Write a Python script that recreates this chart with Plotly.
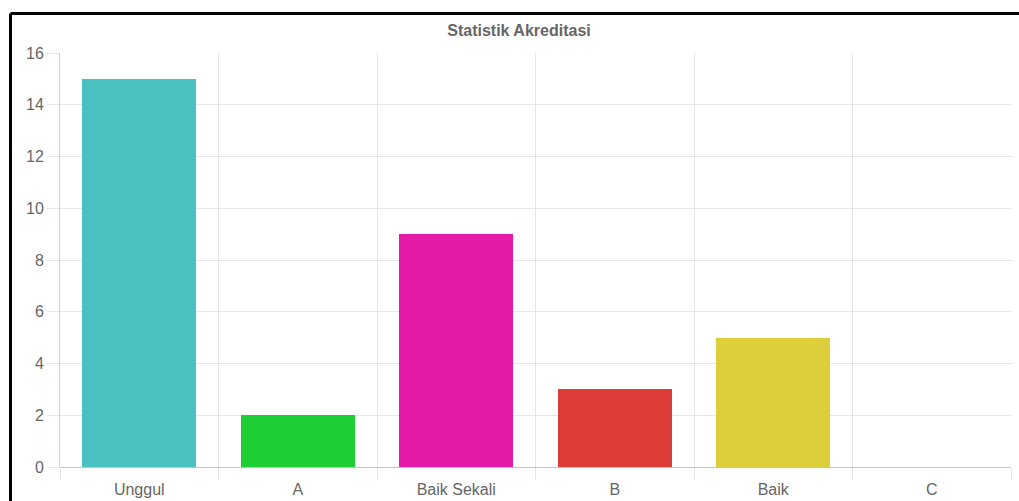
import plotly.graph_objects as go

categories = ["Unggul", "A", "Baik Sekali", "B", "Baik", "C"]
values = [15, 2, 9, 3, 5, 0]
colors = ["#4BC0C0", "#1ECE35", "#E51AA9", "#DC3D39", "#DCCF3B", "#9966FF"]
yticks = [0, 2, 4, 6, 8, 10, 12, 14, 16]

W, H = 1019, 501
L, R, T, B = 60, 8, 53, 34
pw, ph = W - L - R, H - T - B

xpos = list(range(len(categories)))

fig = go.Figure(go.Bar(
    x=xpos, y=values, marker_color=colors, width=0.72,
    marker_line_width=0, showlegend=False, hoverinfo="x+y",
))

grid = "#e6e6e6"
font = dict(family="Liberation Sans, Arial, Helvetica, sans-serif", size=16, color="#666666")

fig.update_layout(
    width=W, height=H,
    margin=dict(l=L, r=R, t=T, b=B, pad=0, autoexpand=False),
    paper_bgcolor="white", plot_bgcolor="white",
    font=font,
    title=dict(text="<b>Statistik Akreditasi</b>", x=519 / W, xref="container", xanchor="center",
               y=1 - 30 / H, yref="container", yanchor="middle",
               font=dict(family="Liberation Sans, Arial, sans-serif", size=16, color="#666666")),
    bargap=0,
)

fig.update_xaxes(
    range=[-0.5, len(categories) - 0.5], automargin=False,
    tickmode="array", tickvals=xpos, ticktext=categories,
    ticks="outside", ticklen=8, tickcolor="rgba(0,0,0,0)",
    showgrid=False, zeroline=False, showline=False,
    minor=dict(tickmode="linear", tick0=-0.5, dtick=1, showgrid=True, gridcolor=grid,
               gridwidth=1, ticks="outside", ticklen=12, tickcolor=grid),
    tickfont=font, fixedrange=True,
)
fig.update_yaxes(
    range=[0, 16], tickmode="array", tickvals=yticks, automargin=False,
    showgrid=True, gridcolor=grid, gridwidth=1,
    ticks="outside", ticklen=12, tickcolor=grid,
    zeroline=True, zerolinecolor="#c4c4c4", zerolinewidth=1,
    showline=True, linecolor="#d0d0d0", linewidth=1,
    tickfont=font, fixedrange=True,
)

# black frame of the screenshot (top and left edges)
bx = (10.5 - L) / pw
by = 1 + (T - 13.5) / ph
fig.add_shape(type="line", xref="paper", yref="paper", x0=bx, x1=1 + (R + 5) / pw, y0=by, y1=by,
              line=dict(color="black", width=3))
fig.add_shape(type="line", xref="paper", yref="paper", x0=bx, x1=bx, y0=by, y1=-(B + 5) / ph,
              line=dict(color="black", width=3))

fig.write_html("out.html", config={"displayModeBar": False})
